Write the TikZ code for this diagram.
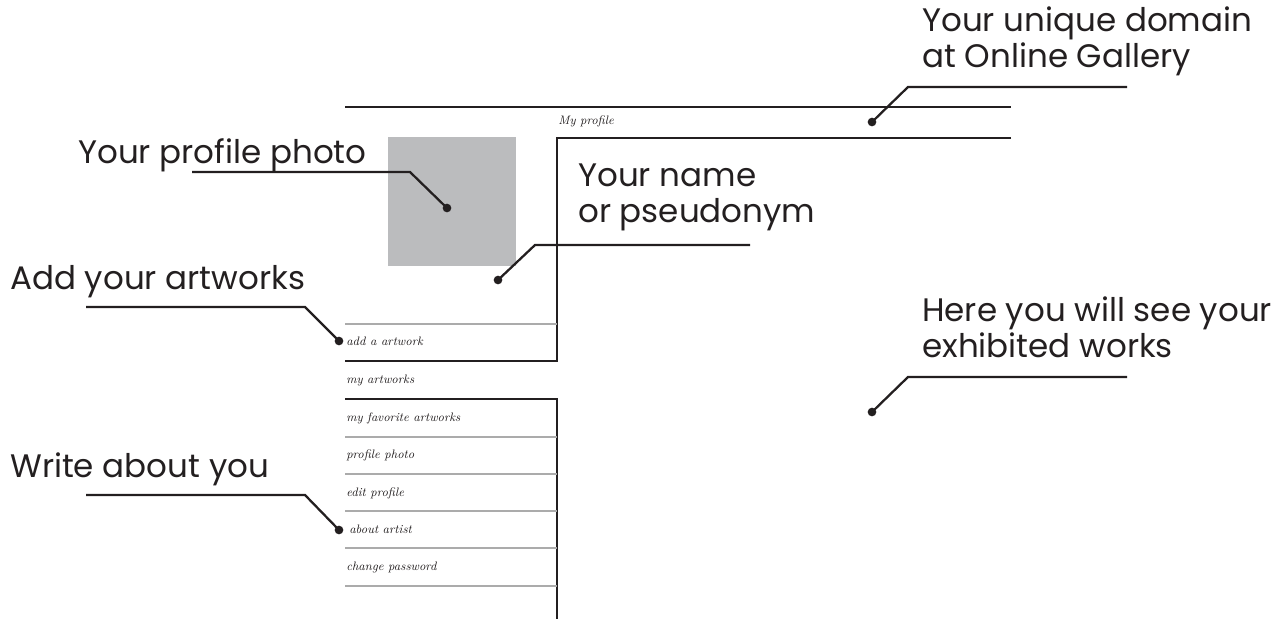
\documentclass[tikz,border=0pt]{standalone}
\usepackage{fontspec}
\usetikzlibrary{positioning}
\newfontfamily\notefont{Poppins}
\definecolor{photogray}{HTML}{BBBCBE}
\definecolor{rulegray}{HTML}{ABABAB}
\definecolor{inkgray}{HTML}{231F20}

\begin{document}
\begin{tikzpicture}[x=0.75pt, y=-0.75pt,
		note/.style={anchor=base west, inner sep=0pt, align=left, text=inkgray,
			font=\notefont\fontsize{24.4}{26.5}\selectfont},
		item/.style={anchor=base west, inner sep=0pt, text=inkgray,
			font=\itshape\fontsize{9.2}{11}\selectfont},
		leader/.style={line width=1.7pt, inkgray, line join=miter},
		dot/.style={circle, fill=inkgray, inner sep=0pt, minimum size=6.5pt},
		frame/.style={line width=0.9pt, inkgray},
		rule/.style={line width=0.8pt, rulegray}]
	\useasboundingbox (0,0) rectangle (1279,619);

	% page frame
	\draw[frame] (345,107) -- (1011,107);
	\draw[frame] (1011,138) -- (557,138) -- (557,361) -- (345,361);
	\draw[frame] (345,399) -- (557,399) -- (557,619);
	\foreach \y in {324,437,474,511,548,586}
		\draw[rule] (345,\y) -- (557,\y);
	\fill[photogray] (388,137) rectangle (516,266);

	% menu
	\node[item] (title) at (558,124) {My profile};
	\node[item] (additem) at (346,345) {add a artwork};
	\node[item] (myitem) at (346,383) {my artworks};
	\node[item] (favitem) at (346,421) {my favorite artworks};
	\node[item] (photoitem) at (346,458) {profile photo};
	\node[item] (edititem) at (346,496) {edit profile};
	\node[item] (aboutitem) at (349,533) {about artist};
	\node[item] (passitem) at (346,570) {change password};

	% notes (base = last line)
	\node[note] (domain) at (922,67) {Your unique domain\\at Online Gallery};
	\node[note] (photo) at (78,163) {Your profile photo};
	\node[note] (name) at (578,222) {Your name\\or pseudonym};
	\node[note] (add) at (10,289) {Add your artworks};
	\node[note] (works) at (922,357) {Here you will see your\\exhibited works};
	\node[note] (write) at (10,477) {Write about you};

	% leaders
	\node[dot] (domaindot) at (872,122) {};
	\node[dot] (photodot) at (447,208) {};
	\node[dot] (namedot) at (498,280) {};
	\node[dot] (adddot) at (339,341) {};
	\node[dot] (worksdot) at (872,412) {};
	\node[dot] (writedot) at (339,530) {};
	\coordinate (domainend) at (1127,87);
	\coordinate (photoend) at (192,172);
	\coordinate (nameend) at (750,245);
	\coordinate (addend) at (86,307);
	\coordinate (worksend) at (1127,377);
	\coordinate (writeend) at (86,495);
	\draw[leader] (domainend) -- (908,87) -- (domaindot.center);
	\draw[leader] (photoend) -- (410,172) -- (photodot.center);
	\draw[leader] (nameend) -- (535,245) -- (namedot.center);
	\draw[leader] (addend) -- (305,307) -- (adddot.center);
	\draw[leader] (worksend) -- (908,377) -- (worksdot.center);
	\draw[leader] (writeend) -- (305,495) -- (writedot.center);
\end{tikzpicture}
\end{document}
